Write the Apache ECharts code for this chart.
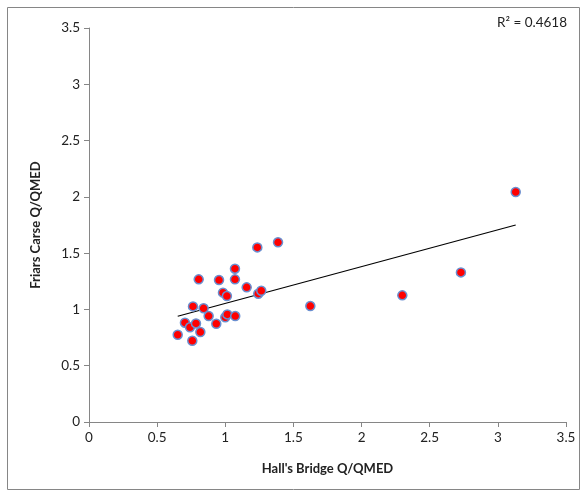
<!DOCTYPE html>
<html>
	<head>
		<meta charset="utf-8">
		<title>Friars Carse vs Hall's Bridge</title>
		<style type="text/css">
			html,body {
				margin: 0;
				padding: 0;
				background: #FFFFFF;
			}
			#chart {
				width: 587px;
				height: 497px;
			}
		</style>
	</head>
	<body>
		<div id="chart"></div>
		<script src="https://cdn.jsdelivr.net/npm/echarts@6/dist/echarts.min.js" type="text/javascript" charset="utf-8"></script>
		<script type="text/javascript">
			// Hall's Bridge Q/QMED (x) and Friars Carse Q/QMED (y)
			var hallsBridge = [0.651, 0.758, 0.704, 0.741, 0.785, 0.817, 0.763, 0.805, 0.841, 0.878,
				0.934, 0.954, 0.983, 1.012, 1.000, 1.015, 1.071, 1.071, 1.073, 1.157,
				1.235, 1.387, 1.242, 1.264, 1.624, 2.299, 2.729, 3.131];
			var friarsCarse = [0.775, 0.722, 0.882, 0.841, 0.876, 0.799, 1.027, 1.267, 1.010, 0.941,
				0.873, 1.261, 1.149, 1.119, 0.930, 0.956, 1.362, 1.267, 0.941, 1.196,
				1.551, 1.596, 1.140, 1.166, 1.030, 1.125, 1.329, 2.043];
			// linear trend line end points
			var trendX = [0.651, 3.131];
			var trendY = [0.939, 1.750];
			var tickLabels = ['0', '0.5', '1', '1.5', '2', '2.5', '3', '3.5'];
			var r2Label = 'R² = 0.4618';

			var points = hallsBridge.map(function (x, i) { return [x, friarsCarse[i]]; });
			var trend = trendX.map(function (x, i) { return [x, trendY[i]]; });
			var font = 'Lato, "Open Sans", sans-serif';

			var myChart = echarts.init(document.getElementById('chart'));
			var axisCommon = {
				type: 'value',
				min: 0,
				max: 3.5,
				interval: 0.5,
				splitLine: { show: false },
				axisLine: { show: true, lineStyle: { color: '#868686', width: 1 } },
				axisTick: { show: true, length: 5, lineStyle: { color: '#868686' } },
				axisLabel: {
					color: '#222',
					fontFamily: font,
					fontSize: 13.5,
					formatter: function (v) { return tickLabels[Math.round(v * 2)]; }
				},
				nameLocation: 'middle',
				nameTextStyle: { color: '#222', fontFamily: font, fontSize: 13, fontWeight: 'bold' }
			};
			var option = {
				animation: false,
				grid: { left: 89, right: 21, top: 28, bottom: 75 },
				xAxis: echarts.util.merge({
					name: "Hall's Bridge Q/QMED",
					nameGap: 40,
					axisLabel: { margin: 9 }
				}, axisCommon),
				yAxis: echarts.util.merge({
					name: 'Friars Carse Q/QMED',
					nameGap: 47,
					axisLabel: { margin: 9 }
				}, axisCommon),
				graphic: [
					{
						type: 'rect',
						shape: { x: 7.5, y: 7.5, width: 572, height: 482 },
						style: { fill: 'none', stroke: '#868686', lineWidth: 1 },
						silent: true
					},
					{
						type: 'text',
						right: 20,
						top: 16,
						style: { text: r2Label, fill: '#222', font: '13.5px ' + font }
					}
				],
				series: [
					{
						type: 'line',
						data: trend,
						symbol: 'none',
						lineStyle: { color: '#000', width: 1.2 },
						z: 2
					},
					{
						type: 'scatter',
						data: points,
						symbol: 'circle',
						symbolSize: 9,
						itemStyle: { color: '#FF0000', borderColor: '#6A8FD0', borderWidth: 1.5, opacity: 1 },
						z: 3
					}
				]
			};
			myChart.setOption(option);
		</script>
	</body>
</html>
